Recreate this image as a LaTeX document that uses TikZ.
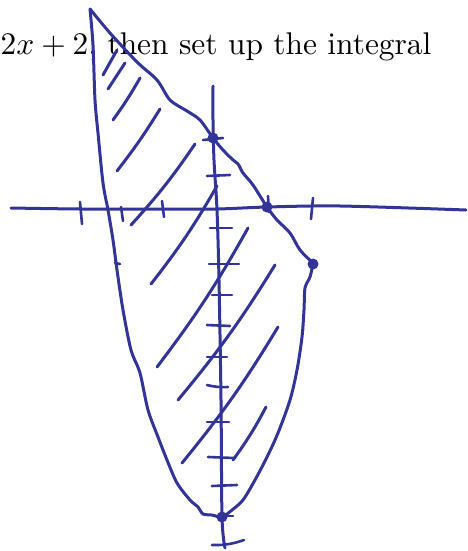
\documentclass[tikz,border=0pt]{standalone}
\begin{document}
\begin{tikzpicture}[x=1pt,y=-1pt,
  ink/.style={draw=inkblue,line width=3pt,line cap=round,line join=round},
  thin ink/.style={draw=inkblue,line width=2.6pt,line cap=round}]
\definecolor{inkblue}{RGB}{50,52,152}
\useasboundingbox (0,0) rectangle (467,551);
% text
\node[anchor=base west,inner sep=0pt,scale=3.14] (txt) at (0,55) {$2x+2$, then set up the integral};
% x-axis
\draw[ink] plot[smooth] coordinates {(11,208) (80,209) (160,209) (217,209) (267,207) (340,206) (466,210)};
% y-axis
\draw[ink] plot[smooth] coordinates {(213,86) (213,120) (214,160) (217,210) (219,280) (221,400) (222,517) (225,548)};
% region boundary
\draw[ink] plot[smooth,tension=0.5] coordinates {
 (90,9) (110,33) (137,62) (157,80) (170,100) (187,111) (200,120) (213,138)
 (223,150) (233,160) (238,164) (243,173) (253,185) (267,207)
 (277,220) (290,233) (300,250) (313,263)};
\draw[ink] plot[smooth,tension=0.5] coordinates {
 (90,9) (93,45) (95,100) (98,133) (103,183) (108,210) (113,240) (117,270)
 (123,310) (131,350) (140,373) (148,410) (158,437) (167,460) (177,483)
 (190,500) (198,507) (203,514) (212,515) (222,517) (232,510) (243,500)
 (255,480) (267,457) (278,433) (290,400) (297,370) (302,337) (304,310)
 (305,288) (310,277) (313,264)};
% dots
\foreach \p in {(213,138),(267,207),(313,264),(222,517)}
  \fill[inkblue] \p circle (5.5pt);
% x ticks
\draw[thin ink] (80,202) -- (82,224);
\draw[thin ink] (121,207) -- (123,221);
\draw[thin ink] (162,201) -- (164,217);
\draw[thin ink] (268,196) -- (269,212);
\draw[thin ink] (313,198) -- (311,219);
\draw[thin ink] (115,263) -- (120,264);
% y ticks
\draw[thin ink] (203,140) -- (223,138);
\draw[thin ink] (207,176) -- (230,175);
\draw[thin ink] (210,228) -- (232,228);
\draw[thin ink] (209,264) -- (239,264);
\draw[thin ink] (212,295) -- (232,295);
\draw[thin ink] (207,325) -- (230,326);
\draw[thin ink] (207,357) -- (227,357);
\draw[thin ink] (207,385) to[bend right=8] (228,387);
\draw[thin ink] (207,422) -- (229,422);
\draw[thin ink] (208,457) -- (234,458);
\draw[thin ink] (212,486) -- (237,485);
\draw[thin ink] (213,516) -- (233,516);
\draw[thin ink] (212,545) to[bend right=10] (244,540);
% hatching
\draw[ink] (103,75) -- (117,50);
\draw[ink] (108,89) -- (125,63);
\draw[ink] (113,120) to[bend right=3] (140,78);
\draw[ink] (117,171) to[bend right=3] (160,109);
\draw[ink] (131,225) to[bend right=4] (195,144);
\draw[ink] (151,284) to[bend right=4] (217,186);
\draw[ink] (157,367) to[bend right=4] (248,228);
\draw[ink] (178,400) to[bend right=4] (275,265);
\draw[ink] (182,463) to[bend right=4] (278,327);
\draw[ink] (233,460) to[bend right=4] (266,407);
\end{tikzpicture}
\end{document}
